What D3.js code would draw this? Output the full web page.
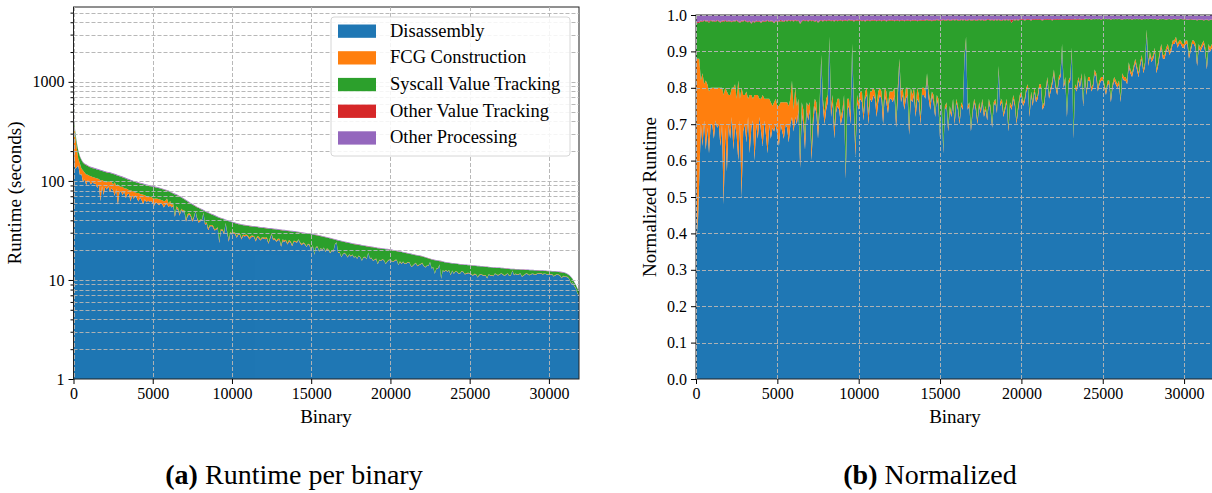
<!DOCTYPE html>
<html>
<head>
<meta charset="utf-8">
<script src="https://cdn.jsdelivr.net/npm/d3@7"></script>
<style>
  body { margin: 0; background: #fff; }
  svg { display: block; font-family: "Liberation Serif", "DejaVu Serif", serif; }
</style>
</head>
<body>
<svg id="fig" width="1212" height="493"></svg>
<script>
// Binaries are sorted by total runtime; one sample every STEP binaries.
const STEP = 100;
const binaryCount = 31900;

// Total runtime per binary (seconds)
const totalSeconds = [
  470, 330, 250, 205, 180, 165, 155, 150, 147, 144,
  141, 139, 137, 135.5, 134, 132.5, 131, 129.5, 128, 126.5,
  125, 124, 123, 122, 121, 119.5, 118, 116.5, 115, 113.5,
  112, 110.5, 109, 107.5, 106, 104.5, 103, 101.5, 100, 99,
  98, 97, 96, 95, 94, 93, 92, 91.2, 90.5, 89.7,
  89, 88.2, 87.5, 86.7, 86, 85, 84, 83, 82, 81,
  80, 78.5, 77, 75.7, 74.5, 73.2, 72, 70.5, 69, 67.5,
  66, 64.5, 63, 61.5, 60, 58.7, 57.5, 56.2, 55, 54,
  53, 52, 51, 50, 49, 48.2, 47.5, 46.7, 46, 45.2,
  44.5, 43.7, 43, 42.5, 42, 41.4, 40.8, 40.3, 39.8, 39.3,
  38.8, 38.4, 38, 37.6, 37.2, 36.9, 36.6, 36.3, 36.1, 35.9,
  35.7, 35.5, 35.3, 35.15, 35, 34.85, 34.7, 34.5, 34.3, 34.15,
  34, 33.85, 33.7, 33.55, 33.4, 33.25, 33.1, 32.95, 32.8, 32.65,
  32.5, 32.35, 32.2, 32.05, 31.9, 31.75, 31.6, 31.45, 31.3, 31.15,
  31, 30.85, 30.7, 30.5, 30.3, 30.15, 30, 29.85, 29.7, 29.55,
  29.4, 29.2, 29, 28.8, 28.6, 28.35, 28.1, 27.85, 27.6, 27.35,
  27.1, 26.85, 26.6, 26.35, 26.1, 25.85, 25.6, 25.35, 25.1, 24.9,
  24.7, 24.5, 24.3, 24.1, 23.9, 23.7, 23.5, 23.35, 23.2, 23.05,
  22.9, 22.75, 22.6, 22.45, 22.3, 22.15, 22, 21.9, 21.8, 21.65,
  21.5, 21.35, 21.2, 21.1, 21, 20.9, 20.8, 20.7, 20.6, 20.5,
  20.4, 20.25, 20.1, 19.95, 19.8, 19.65, 19.5, 19.35, 19.2, 19.05,
  18.9, 18.75, 18.6, 18.45, 18.3, 18.15, 18, 17.9, 17.8, 17.65,
  17.5, 17.3, 17.1, 16.9, 16.7, 16.5, 16.3, 16.15, 16, 15.9,
  15.8, 15.7, 15.6, 15.45, 15.3, 15.2, 15.1, 15, 14.9, 14.85,
  14.8, 14.75, 14.7, 14.6, 14.5, 14.45, 14.4, 14.35, 14.3, 14.25,
  14.2, 14.15, 14.1, 14.05, 14, 13.95, 13.9, 13.85, 13.8, 13.75,
  13.7, 13.65, 13.6, 13.55, 13.5, 13.45, 13.4, 13.37, 13.35, 13.32,
  13.3, 13.25, 13.2, 13.15, 13.1, 13.05, 13, 12.97, 12.95, 12.92,
  12.9, 12.87, 12.85, 12.82, 12.8, 12.77, 12.75, 12.72, 12.7, 12.67,
  12.65, 12.62, 12.6, 12.57, 12.55, 12.52, 12.5, 12.47, 12.45, 12.42,
  12.4, 12.37, 12.35, 12.32, 12.3, 12.25, 12.2, 12.15, 12.1, 12,
  11.9, 11.75, 11.5, 11.2, 10.8, 10.3, 9.6, 9, 8.3, 7.8
];

// Share of the runtime spent in disassembly
const shareDisassembly = [
  0.60, 0.40, 0.55, 0.70, 0.64, 0.71, 0.63, 0.69, 0.62, 0.70,
  0.70, 0.66, 0.71, 0.69, 0.70, 0.64, 0.70, 0.48, 0.69, 0.57,
  0.70, 0.66, 0.72, 0.63, 0.70, 0.67, 0.60, 0.71, 0.50, 0.68,
  0.70, 0.65, 0.72, 0.62, 0.69, 0.71, 0.60, 0.70, 0.66, 0.72,
  0.68, 0.64, 0.71, 0.67, 0.62, 0.70, 0.66, 0.69, 0.68, 0.70,
  0.67, 0.64, 0.70, 0.68, 0.66, 0.70, 0.69, 0.65, 0.70, 0.72,
  0.68, 0.72, 0.70, 0.74, 0.58, 0.73, 0.70, 0.63, 0.74, 0.71,
  0.74, 0.60, 0.70, 0.75, 0.73, 0.66, 0.74, 0.88, 0.75, 0.70,
  0.74, 0.76, 0.93, 0.72, 0.76, 0.66, 0.73, 0.75, 0.74, 0.70,
  0.72, 0.76, 0.55, 0.74, 0.75, 0.70, 0.91, 0.74, 0.61, 0.76,
  0.74, 0.77, 0.76, 0.71, 0.77, 0.78, 0.70, 0.77, 0.76, 0.78,
  0.77, 0.72, 0.76, 0.78, 0.77, 0.70, 0.78, 0.76, 0.73, 0.77,
  0.77, 0.76, 0.78, 0.69, 0.77, 0.87, 0.76, 0.78, 0.74, 0.77,
  0.78, 0.67, 0.77, 0.76, 0.78, 0.72, 0.77, 0.76, 0.70, 0.78,
  0.78, 0.77, 0.83, 0.77, 0.74, 0.78, 0.76, 0.72, 0.77, 0.75,
  0.66, 0.76, 0.62, 0.74, 0.75, 0.68, 0.74, 0.72, 0.76, 0.70,
  0.76, 0.74, 0.70, 0.75, 0.74, 0.88, 0.93, 0.74, 0.75, 0.68,
  0.73, 0.76, 0.74, 0.70, 0.75, 0.73, 0.76, 0.72, 0.74, 0.71,
  0.76, 0.74, 0.69, 0.75, 0.76, 0.73, 0.85, 0.75, 0.76, 0.72,
  0.74, 0.76, 0.68, 0.75, 0.74, 0.77, 0.75, 0.70, 0.74, 0.77,
  0.78, 0.75, 0.76, 0.79, 0.80, 0.72, 0.78, 0.75, 0.79, 0.76,
  0.77, 0.80, 0.80, 0.74, 0.75, 0.79, 0.82, 0.77, 0.79, 0.81,
  0.84, 0.80, 0.78, 0.82, 0.83, 0.91, 0.80, 0.82, 0.72, 0.81,
  0.82, 0.90, 0.66, 0.80, 0.79, 0.82, 0.80, 0.83, 0.75, 0.83,
  0.78, 0.82, 0.82, 0.79, 0.80, 0.84, 0.83, 0.79, 0.81, 0.82,
  0.82, 0.80, 0.78, 0.81, 0.81, 0.76, 0.80, 0.82, 0.81, 0.80,
  0.81, 0.76, 0.83, 0.82, 0.82, 0.81, 0.86, 0.84, 0.83, 0.85,
  0.87, 0.85, 0.83, 0.86, 0.88, 0.84, 0.86, 0.95, 0.86, 0.89,
  0.87, 0.88, 0.90, 0.84, 0.86, 0.89, 0.91, 0.88, 0.88, 0.90,
  0.91, 0.89, 0.90, 0.92, 0.92, 0.93, 0.91, 0.92, 0.92, 0.91,
  0.91, 0.92, 0.92, 0.88, 0.90, 0.92, 0.92, 0.91, 0.86, 0.91,
  0.90, 0.91, 0.92, 0.90, 0.85, 0.91, 0.90, 0.91, 0.88, 0.90
];

// Share of the runtime spent building the function call graph
const shareFcg = [
  0.28, 0.48, 0.33, 0.12, 0.20, 0.10, 0.19, 0.12, 0.17, 0.10,
  0.10, 0.14, 0.09, 0.11, 0.10, 0.16, 0.10, 0.30, 0.11, 0.22,
  0.08, 0.12, 0.08, 0.17, 0.11, 0.10, 0.22, 0.06, 0.30, 0.10,
  0.08, 0.14, 0.05, 0.16, 0.09, 0.06, 0.18, 0.08, 0.12, 0.05,
  0.09, 0.14, 0.06, 0.10, 0.15, 0.07, 0.10, 0.06, 0.08, 0.07,
  0.08, 0.11, 0.06, 0.08, 0.10, 0.06, 0.07, 0.10, 0.07, 0.10,
  0.06, 0.08, 0.05, 0.03, 0.03, 0.03, 0.04, 0.03, 0.02, 0.04,
  0.02, 0.03, 0.03, 0.02, 0.03, 0.03, 0.02, 0.01, 0.02, 0.03,
  0.03, 0.02, 0.01, 0.03, 0.02, 0.03, 0.02, 0.02, 0.03, 0.02,
  0.02, 0.02, 0.02, 0.03, 0.02, 0.03, 0.01, 0.02, 0.03, 0.02,
  0.02, 0.02, 0.03, 0.02, 0.02, 0.02, 0.03, 0.02, 0.03, 0.02,
  0.02, 0.03, 0.03, 0.02, 0.02, 0.03, 0.02, 0.03, 0.02, 0.02,
  0.02, 0.03, 0.02, 0.02, 0.03, 0.01, 0.03, 0.02, 0.02, 0.03,
  0.02, 0.02, 0.03, 0.02, 0.02, 0.02, 0.03, 0.02, 0.02, 0.02,
  0.02, 0.02, 0.01, 0.02, 0.02, 0.01, 0.02, 0.01, 0.01, 0.02,
  0.01, 0.01, 0.01, 0.01, 0.01, 0.01, 0.01, 0.01, 0.01, 0.01,
  0.01, 0.01, 0.01, 0.01, 0.01, 0.01, 0.01, 0.01, 0.01, 0.01,
  0.01, 0.01, 0.01, 0.01, 0.01, 0.01, 0.01, 0.01, 0.01, 0.01,
  0.01, 0.01, 0.01, 0.01, 0.01, 0.01, 0.01, 0.01, 0.01, 0.01,
  0.01, 0.01, 0.01, 0.01, 0.01, 0.01, 0.01, 0.01, 0.01, 0.01,
  0.01, 0.01, 0.01, 0.01, 0.01, 0.01, 0.01, 0.01, 0.01, 0.01,
  0.01, 0.01, 0.01, 0.01, 0.01, 0.01, 0.01, 0.01, 0.01, 0.01,
  0.01, 0.01, 0.01, 0.01, 0.01, 0.01, 0.01, 0.01, 0.01, 0.01,
  0.01, 0.01, 0.01, 0.01, 0.01, 0.01, 0.01, 0.01, 0.01, 0.01,
  0.01, 0.01, 0.01, 0.01, 0.01, 0.01, 0.01, 0.01, 0.01, 0.01,
  0.01, 0.01, 0.01, 0.01, 0.01, 0.01, 0.01, 0.01, 0.01, 0.01,
  0.01, 0.01, 0.01, 0.01, 0.01, 0.01, 0.01, 0.01, 0.01, 0.01,
  0.01, 0.01, 0.01, 0.01, 0.01, 0.01, 0.01, 0.01, 0.01, 0.01,
  0.01, 0.01, 0.01, 0.01, 0.01, 0.01, 0.01, 0.01, 0.01, 0.01,
  0.01, 0.01, 0.01, 0.01, 0.01, 0.01, 0.01, 0.01, 0.01, 0.01,
  0.01, 0.01, 0.01, 0.01, 0.01, 0.01, 0.01, 0.01, 0.01, 0.01,
  0.01, 0.01, 0.01, 0.01, 0.01, 0.01, 0.01, 0.01, 0.01, 0.01
];

// Share of the runtime spent in other value tracking
const shareOtherTracking = [
  0.003, 0.003, 0.003, 0.002, 0.002, 0.002, 0.002, 0.002, 0.003, 0.002,
  0.002, 0.002, 0.002, 0.002, 0.002, 0.002, 0.002, 0.003, 0.002, 0.002,
  0.002, 0.002, 0.002, 0.002, 0.002, 0.002, 0.002, 0.002, 0.003, 0.002,
  0.002, 0.002, 0.002, 0.002, 0.002, 0.002, 0.002, 0.002, 0.002, 0.002,
  0.002, 0.002, 0.002, 0.002, 0.002, 0.002, 0.002, 0.002, 0.002, 0.002,
  0.002, 0.002, 0.003, 0.002, 0.002, 0.002, 0.002, 0.002, 0.002, 0.002,
  0.002, 0.002, 0.002, 0.002, 0.003, 0.002, 0.002, 0.002, 0.002, 0.002,
  0.002, 0.002, 0.002, 0.002, 0.002, 0.002, 0.002, 0.002, 0.002, 0.002,
  0.002, 0.002, 0.002, 0.002, 0.002, 0.002, 0.002, 0.002, 0.002, 0.002,
  0.002, 0.002, 0.002, 0.002, 0.002, 0.002, 0.002, 0.002, 0.002, 0.002,
  0.002, 0.002, 0.002, 0.002, 0.002, 0.002, 0.002, 0.002, 0.002, 0.002,
  0.002, 0.002, 0.002, 0.002, 0.002, 0.002, 0.002, 0.002, 0.002, 0.002,
  0.002, 0.002, 0.002, 0.002, 0.002, 0.002, 0.002, 0.002, 0.002, 0.002,
  0.002, 0.002, 0.002, 0.002, 0.002, 0.002, 0.002, 0.002, 0.002, 0.002,
  0.002, 0.002, 0.002, 0.002, 0.002, 0.002, 0.002, 0.002, 0.002, 0.002,
  0.002, 0.002, 0.002, 0.002, 0.002, 0.002, 0.002, 0.002, 0.002, 0.002,
  0.002, 0.002, 0.002, 0.002, 0.002, 0.002, 0.002, 0.002, 0.002, 0.002,
  0.002, 0.002, 0.002, 0.002, 0.002, 0.002, 0.002, 0.002, 0.002, 0.002,
  0.002, 0.002, 0.002, 0.002, 0.002, 0.002, 0.002, 0.002, 0.002, 0.002,
  0.002, 0.002, 0.002, 0.002, 0.008, 0.002, 0.002, 0.002, 0.002, 0.002,
  0.002, 0.002, 0.002, 0.002, 0.002, 0.002, 0.002, 0.002, 0.002, 0.002,
  0.002, 0.002, 0.002, 0.002, 0.002, 0.002, 0.002, 0.002, 0.002, 0.002,
  0.002, 0.002, 0.002, 0.002, 0.002, 0.002, 0.002, 0.002, 0.002, 0.002,
  0.002, 0.002, 0.002, 0.002, 0.002, 0.002, 0.002, 0.002, 0.002, 0.002,
  0.001, 0.001, 0.001, 0.001, 0.001, 0.001, 0.001, 0.001, 0.001, 0.001,
  0.001, 0.001, 0.001, 0.001, 0.001, 0.001, 0.001, 0.001, 0.001, 0.001,
  0.001, 0.001, 0.001, 0.001, 0.001, 0.001, 0.001, 0.001, 0.001, 0.001,
  0.001, 0.001, 0.001, 0.001, 0.001, 0.001, 0.001, 0.001, 0.001, 0.001,
  0.001, 0.001, 0.001, 0.001, 0.001, 0.001, 0.001, 0.001, 0.001, 0.001,
  0.001, 0.001, 0.001, 0.001, 0.001, 0.001, 0.001, 0.001, 0.001, 0.001,
  0.001, 0.001, 0.001, 0.001, 0.001, 0.001, 0.001, 0.001, 0.001, 0.001,
  0.001, 0.001, 0.001, 0.001, 0.001, 0.001, 0.001, 0.001, 0.001, 0.001
];

// Share of the runtime spent in other processing
const shareOtherProcessing = [
  0.016, 0.020, 0.018, 0.015, 0.017, 0.014, 0.016, 0.015, 0.018, 0.014,
  0.016, 0.015, 0.017, 0.014, 0.016, 0.019, 0.015, 0.016, 0.014, 0.017,
  0.015, 0.016, 0.018, 0.015, 0.016, 0.014, 0.017, 0.019, 0.015, 0.016,
  0.014, 0.017, 0.018, 0.016, 0.022, 0.016, 0.019, 0.015, 0.017, 0.016,
  0.020, 0.015, 0.017, 0.016, 0.014, 0.017, 0.015, 0.016, 0.021, 0.015,
  0.017, 0.016, 0.014, 0.015, 0.017, 0.014, 0.016, 0.013, 0.015, 0.014,
  0.016, 0.013, 0.015, 0.014, 0.022, 0.016, 0.013, 0.015, 0.014, 0.016,
  0.013, 0.015, 0.014, 0.017, 0.014, 0.019, 0.015, 0.014, 0.016, 0.013,
  0.015, 0.014, 0.013, 0.015, 0.014, 0.016, 0.013, 0.015, 0.014, 0.013,
  0.015, 0.014, 0.013, 0.015, 0.012, 0.014, 0.013, 0.016, 0.014, 0.013,
  0.014, 0.013, 0.015, 0.014, 0.016, 0.013, 0.014, 0.015, 0.013, 0.014,
  0.013, 0.015, 0.014, 0.013, 0.015, 0.014, 0.013, 0.016, 0.014, 0.013,
  0.014, 0.013, 0.015, 0.014, 0.013, 0.015, 0.014, 0.013, 0.015, 0.014,
  0.013, 0.014, 0.015, 0.013, 0.014, 0.013, 0.015, 0.014, 0.013, 0.014,
  0.014, 0.013, 0.012, 0.014, 0.013, 0.015, 0.013, 0.014, 0.012, 0.013,
  0.014, 0.013, 0.012, 0.014, 0.013, 0.012, 0.014, 0.013, 0.012, 0.013,
  0.012, 0.013, 0.014, 0.012, 0.013, 0.012, 0.014, 0.013, 0.012, 0.013,
  0.013, 0.012, 0.014, 0.013, 0.012, 0.013, 0.012, 0.014, 0.013, 0.012,
  0.012, 0.013, 0.012, 0.014, 0.012, 0.013, 0.012, 0.013, 0.014, 0.012,
  0.013, 0.012, 0.013, 0.012, 0.014, 0.012, 0.013, 0.012, 0.013, 0.012,
  0.012, 0.011, 0.013, 0.012, 0.011, 0.012, 0.013, 0.011, 0.012, 0.011,
  0.012, 0.011, 0.012, 0.013, 0.011, 0.012, 0.011, 0.012, 0.011, 0.013,
  0.011, 0.012, 0.011, 0.012, 0.011, 0.010, 0.012, 0.011, 0.012, 0.011,
  0.011, 0.012, 0.011, 0.010, 0.012, 0.011, 0.010, 0.012, 0.011, 0.010,
  0.010, 0.011, 0.010, 0.012, 0.010, 0.011, 0.010, 0.011, 0.010, 0.012,
  0.010, 0.011, 0.010, 0.011, 0.010, 0.012, 0.010, 0.011, 0.010, 0.011,
  0.010, 0.011, 0.012, 0.010, 0.011, 0.010, 0.011, 0.010, 0.012, 0.010,
  0.011, 0.010, 0.011, 0.010, 0.012, 0.010, 0.011, 0.010, 0.011, 0.010,
  0.010, 0.011, 0.010, 0.011, 0.012, 0.010, 0.011, 0.010, 0.011, 0.012,
  0.011, 0.010, 0.012, 0.011, 0.010, 0.011, 0.012, 0.011, 0.010, 0.011,
  0.012, 0.011, 0.013, 0.012, 0.011, 0.012, 0.013, 0.012, 0.014, 0.012,
  0.013, 0.012, 0.014, 0.013, 0.012, 0.014, 0.013, 0.012, 0.014, 0.013
];

const seriesNames = ["Disassembly", "FCG Construction", "Syscall Value Tracking",
                     "Other Value Tracking", "Other Processing"];
const seriesColors = ["#1f77b4", "#ff7f0e", "#2ca02c", "#d62728", "#9467bd"];

const xTickValues = [0, 5000, 10000, 15000, 20000, 25000, 30000];
const runtimeTickValues = [1, 10, 100, 1000];
const runtimeTop = 5700;
const normTickValues = [0, 0.1, 0.2, 0.3, 0.4, 0.5, 0.6, 0.7, 0.8, 0.9, 1.0];

// Per-sample shares; syscall value tracking takes whatever is left.
const shareRows = totalSeconds.map((t, i) => {
  const d = shareDisassembly[i], f = shareFcg[i], r = shareOtherTracking[i], p = shareOtherProcessing[i];
  return {
    binary: i * STEP,
    total: t,
    [seriesNames[0]]: d,
    [seriesNames[1]]: f,
    [seriesNames[2]]: 1 - d - f - r - p,
    [seriesNames[3]]: r,
    [seriesNames[4]]: p
  };
});
const secondRows = shareRows.map(row => {
  const o = { binary: row.binary };
  seriesNames.forEach(k => { o[k] = row[k] * row.total; });
  return o;
});

const svg = d3.select("#fig");
const GRID = "#b5b5b5";
const tickFont = 16, labelFont = 19, legendFont = 18.5;

function drawPanel(opts) {
  const { left, right, top, bottom, yScale, rows, yTicks, minorTicks, tickFmt, yLabel, yLabelX, labelX, id } = opts;
  const x = d3.scaleLinear().domain([0, binaryCount]).range([left, right]);
  const y = yScale.range([bottom, top]);
  const g = svg.append("g");

  g.append("clipPath").attr("id", id).append("rect")
    .attr("x", left).attr("y", top).attr("width", right - left).attr("height", bottom - top);

  const stacked = d3.stack().keys(seriesNames)(rows);
  const lo = y.domain()[0];
  const area = d3.area()
    .x(d => x(d.data.binary))
    .y0(d => y(Math.max(d[0], lo)))
    .y1(d => y(Math.max(d[1], lo)));

  g.append("g").attr("clip-path", `url(#${id})`)
    .selectAll("path").data(stacked).join("path")
    .attr("fill", (d, i) => seriesColors[i])
    .attr("d", area);

  // frame
  g.append("rect")
    .attr("x", left).attr("y", top).attr("width", right - left).attr("height", bottom - top)
    .attr("fill", "none").attr("stroke", "#222").attr("stroke-width", 1);

  // grid
  const grid = g.append("g").attr("clip-path", `url(#${id})`)
    .attr("stroke", GRID).attr("stroke-width", 1).attr("stroke-dasharray", "4,2").attr("opacity", 0.95);
  grid.selectAll("line.gy").data(yTicks.concat(minorTicks)).join("line")
    .attr("x1", left).attr("x2", right)
    .attr("y1", d => Math.round(y(d)) + 0.5).attr("y2", d => Math.round(y(d)) + 0.5);
  grid.selectAll("line.gx").data(xTickValues).join("line")
    .attr("y1", top).attr("y2", bottom)
    .attr("x1", d => Math.round(x(d)) + 0.5).attr("x2", d => Math.round(x(d)) + 0.5);

  // axes
  const xAxis = g.append("g").attr("transform", `translate(0,${bottom})`)
    .call(d3.axisBottom(x).tickValues(xTickValues).tickSize(5).tickPadding(4).tickFormat(d3.format("d")));
  const yAxis = g.append("g").attr("transform", `translate(${left},0)`)
    .call(d3.axisLeft(y).tickValues(yTicks).tickSize(5).tickPadding(4).tickFormat(tickFmt));
  if (minorTicks.length) {
    g.append("g").attr("transform", `translate(${left},0)`)
      .call(d3.axisLeft(y).tickValues(minorTicks).tickSize(3).tickFormat(""))
      .call(a => a.select(".domain").remove());
  }
  [xAxis, yAxis].forEach(a => {
    a.select(".domain").remove();
    a.selectAll("text").attr("font-size", tickFont).attr("font-family", "Liberation Serif").attr("fill", "#000");
    a.selectAll("line").attr("stroke", "#000");
  });

  g.append("text").attr("x", labelX).attr("y", bottom + 44)
    .attr("text-anchor", "middle").attr("font-size", labelFont).text("Binary");
  g.append("text")
    .attr("transform", `translate(${yLabelX},${(top + bottom) / 2}) rotate(-90)`)
    .attr("text-anchor", "middle").attr("font-size", labelFont).text(yLabel);

  return { x, y, g };
}

// (a) absolute runtime, log scale
const minorRuntime = [];
[1, 10, 100, 1000].forEach(b => { for (let m = 2; m <= 9; m++) if (b * m <= runtimeTop) minorRuntime.push(b * m); });
drawPanel({
  id: "clipA", left: 73.5, right: 579, top: 7, bottom: 379,
  yScale: d3.scaleLog().domain([1, runtimeTop]),
  rows: secondRows, yTicks: runtimeTickValues, minorTicks: minorRuntime,
  tickFmt: d3.format("d"), yLabel: "Runtime (seconds)", yLabelX: 21, labelX: 326
});

// (b) normalized shares
drawPanel({
  id: "clipB", left: 696, right: 1215, top: 15, bottom: 379,
  yScale: d3.scaleLinear().domain([0, 1]),
  rows: shareRows, yTicks: normTickValues, minorTicks: [],
  tickFmt: d3.format(".1f"), yLabel: "Normalized Runtime", yLabelX: 656, labelX: 955
});

// legend
const legend = svg.append("g").attr("transform", "translate(331,17)");
legend.append("rect").attr("width", 239).attr("height", 139).attr("rx", 3)
  .attr("fill", "#fff").attr("fill-opacity", 0.85).attr("stroke", "#d6d6d6");
seriesNames.forEach((name, i) => {
  const yy = 7.5 + i * 26.7;
  legend.append("rect").attr("x", 7).attr("y", yy).attr("width", 38).attr("height", 13.3).attr("fill", seriesColors[i]);
  legend.append("text").attr("x", 59).attr("y", yy + 12).attr("font-size", legendFont).text(name);
});

// captions
function caption(cx, tag, text) {
  const t = svg.append("text").attr("x", cx).attr("y", 484).attr("text-anchor", "middle").attr("font-size", 28);
  t.append("tspan").attr("font-weight", "bold").text(tag);
  t.append("tspan").text(" " + text);
}
caption(294, "(a)", "Runtime per binary");
caption(930, "(b)", "Normalized");
</script>
</body>
</html>
